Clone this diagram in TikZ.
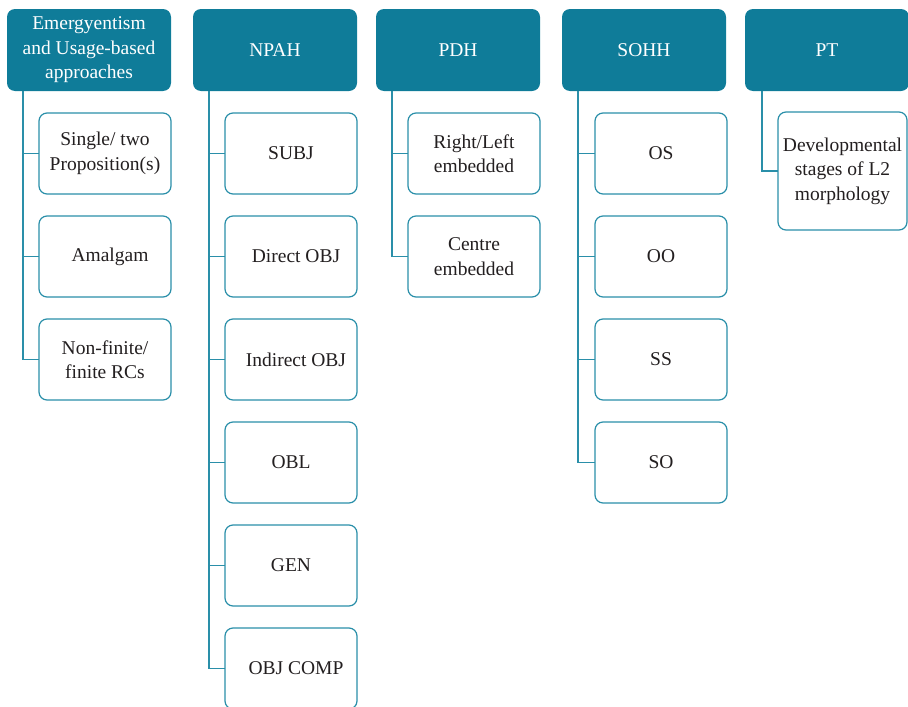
\documentclass[tikz,border=0pt]{standalone}
\usepackage{fontspec}
\setmainfont{Liberation Serif}
\definecolor{hdrteal}{HTML}{0F7C99}
\definecolor{lineteal}{HTML}{2A8FA9}
\definecolor{txtdark}{HTML}{231F20}
\begin{document}
\begin{tikzpicture}[x=1pt,y=-1pt,
  every node/.style={inner sep=0pt,outer sep=0pt,align=center,
    font=\fontsize{19.5}{24.5}\selectfont},
  hdr/.style={anchor=north west,fill=hdrteal,text=white,rounded corners=8pt,
    minimum width=164pt,minimum height=82pt},
  leaf/.style={anchor=north west,draw=lineteal,line width=1.2pt,fill=white,
    text=txtdark,rounded corners=8pt,minimum width=132pt,minimum height=81pt},
  conn/.style={draw=lineteal,line width=1.2pt}]
\useasboundingbox (0,0) rectangle (908,707);
\begin{scope}
\clip (0,0) rectangle (908,707);

% headers
\node[hdr] (h1) at (7,9) {Emergyentism\\and Usage-based\\approaches};
\node[hdr] (h2) at (193,9) {NPAH};
\node[hdr] (h3) at (376,9) {PDH};
\node[hdr] (h4) at (562,9) {SOHH};
\node[hdr] (h5) at (745,9) {PT};

% Emergentism column
\node[leaf] (a1) at (39,113) {Single/ two\\Proposition(s)};
\node[leaf] (a2) at (39,216) {\hspace*{10pt}Amalgam};
\node[leaf] (a3) at (39,319) {Non-finite/\\finite RCs};

% NPAH column
\node[leaf] (b1) at (225,113) {SUBJ};
\node[leaf] (b2) at (225,216) {\hspace*{10pt}Direct OBJ};
\node[leaf] (b3) at (225,319) {\hspace*{10pt}Indirect OBJ};
\node[leaf] (b4) at (225,422) {OBL};
\node[leaf] (b5) at (225,525) {GEN};
\node[leaf] (b6) at (225,628) {\hspace*{10pt}OBJ COMP};

% PDH column
\node[leaf] (c1) at (408,113) {Right/Left\\embedded};
\node[leaf] (c2) at (408,216) {Centre\\embedded};

% SOHH column
\node[leaf] (d1) at (595,113) {OS};
\node[leaf] (d2) at (595,216) {OO};
\node[leaf] (d3) at (595,319) {SS};
\node[leaf] (d4) at (595,422) {SO};

% PT column
\node[leaf,minimum width=129pt,minimum height=118pt] (e1) at (778,112)
  {Developmental\\stages of L2\\morphology};

% connectors
\foreach \c in {a1,a2,a3}
  \draw[conn] ([xshift=16pt]h1.south west) |- (\c.west);
\foreach \c in {b1,b2,b3,b4,b5,b6}
  \draw[conn] ([xshift=16pt]h2.south west) |- (\c.west);
\foreach \c in {c1,c2}
  \draw[conn] ([xshift=16pt]h3.south west) |- (\c.west);
\foreach \c in {d1,d2,d3,d4}
  \draw[conn] ([xshift=16pt]h4.south west) |- (\c.west);
\draw[conn] ([xshift=17pt]h5.south west) |- (e1.west);
\end{scope}
\end{tikzpicture}
\end{document}
